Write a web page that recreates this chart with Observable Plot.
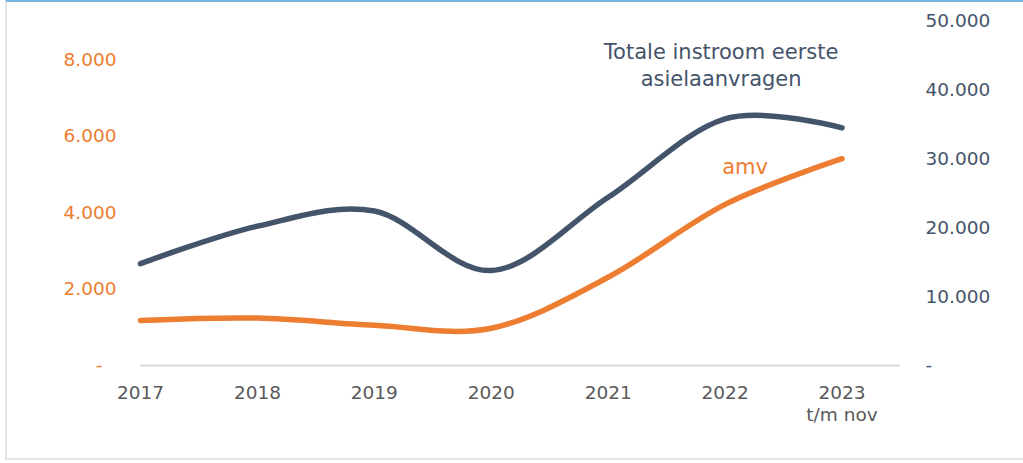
<!DOCTYPE html>
<html>
<head>
<meta charset="utf-8">
<script src="https://cdn.jsdelivr.net/npm/d3@7"></script>
<script src="https://cdn.jsdelivr.net/npm/@observablehq/plot@0.6"></script>
<style>
  html, body { margin: 0; padding: 0; background: #ffffff; }
  #wrap { position: relative; width: 1023px; height: 463px; overflow: hidden; }
  #frame { position: absolute; left: 5px; top: 0; width: 1030px; height: 460px;
           border-top: 2px solid #74b3e2; border-left: 2px solid #e4e4e4; border-bottom: 2px solid #e4e4e4;
           box-sizing: border-box; pointer-events: none; }
  #chart { position: absolute; left: 0; top: 0; }
</style>
</head>
<body>
<div id="wrap"><div id="chart"></div><div id="frame"></div></div>
<script>
// ---- data ----
const years = [2017, 2018, 2019, 2020, 2021, 2022, 2023];
const totaal = [14800, 20250, 22450, 13800, 24450, 35850, 34550];   // right axis
const amv = [1180, 1240, 1055, 975, 2310, 4215, 5410];               // left axis
const xTickLabels = ["2017", "2018", "2019", "2020", "2021", "2022", "2023\nt/m nov"];
const leftTicks = [0, 2000, 4000, 6000, 8000];
const rightTicks = [0, 10000, 20000, 30000, 40000, 50000];
const leftMax = 9000;
const rightMax = 50000;
const labelTotaal = "Totale instroom eerste\nasielaanvragen";
const labelAmv = "amv";

const ORANGE = "#ED7D31";
const DARK = "#44546A";
const GREY = "#595959";

const ratio = rightMax / leftMax;
const data = years.map((y, i) => ({year: y, totaal: totaal[i], amv: amv[i]}));
const nl = d3.formatLocale({decimal: ",", thousands: ".", grouping: [3], currency: ["", ""]});
const fmt = nl.format(",d");
const FS = 18.5;

const chart = Plot.plot({
  width: 1023,
  height: 463,
  marginLeft: 140,
  marginRight: 123,
  marginTop: 21,
  marginBottom: 98,
  style: {fontFamily: "'DejaVu Sans', Verdana, sans-serif", fontSize: FS + "px", background: "transparent", overflow: "visible"},
  x: {type: "linear", domain: [years[0], years[years.length - 1] + 0.5]},
  y: {domain: [0, rightMax]},
  marks: [
    Plot.ruleY([0], {stroke: "#d9d9d9", strokeWidth: 2}),
    // x axis
    Plot.axisX(years, {tickSize: 0, tickPadding: 17, fill: GREY, fontSize: FS, lineHeight: 1.22,
      tickFormat: d => xTickLabels[years.indexOf(d)], label: null}),
    // left axis (amv)
    Plot.axisY(leftTicks.filter(v => v > 0).map(v => v * ratio), {anchor: "left", tickSize: 0, tickPadding: 24,
      fill: ORANGE, fontSize: FS, tickFormat: d => fmt(Math.round(d / ratio)), label: null}),
    Plot.axisY([0], {anchor: "left", tickSize: 0, tickPadding: 38, fill: ORANGE, fontSize: FS,
      tickFormat: () => "-", label: null}),
    // right axis (totaal)
    Plot.axisY(rightTicks, {anchor: "right", tickSize: 0, tickPadding: 25, fill: DARK, fontSize: FS,
      tickFormat: d => d === 0 ? "-" : fmt(d), label: null}),
    // lines
    Plot.line(data, {x: "year", y: "totaal", stroke: DARK, strokeWidth: 5.5, curve: "cardinal", tension: 0, strokeLinecap: "round"}),
    Plot.line(data, {x: "year", y: d => d.amv * ratio, stroke: ORANGE, strokeWidth: 5.5, curve: "cardinal", tension: 0, strokeLinecap: "round"}),
    // labels
    Plot.text(data, {filter: d => d.year === 2022, x: "year", y: "totaal", text: () => labelTotaal,
      fill: DARK, fontSize: 21, lineHeight: 1.3, dx: -4, dy: -55, textAnchor: "middle"}),
    Plot.text(data, {filter: d => d.year === 2022, x: "year", y: d => d.amv * ratio, text: () => labelAmv,
      fill: ORANGE, fontSize: 21, dx: 20, dy: -37, textAnchor: "middle"})
  ]
});
document.getElementById("chart").appendChild(chart);
</script>
</body>
</html>
